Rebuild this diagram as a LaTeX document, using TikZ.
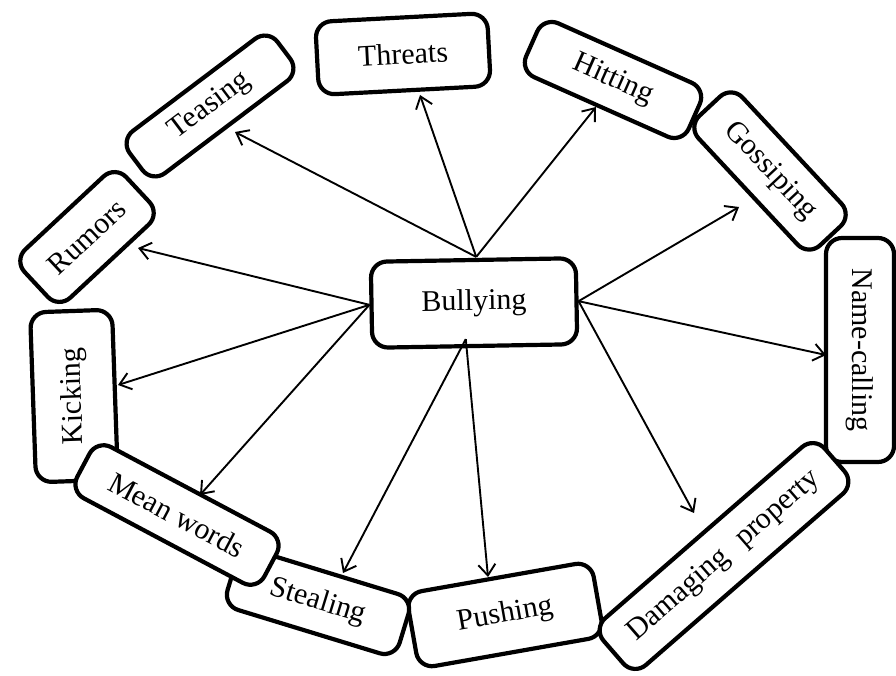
\documentclass[tikz,border=0pt]{standalone}
\usepackage{fontspec}
\setmainfont{Liberation Serif}
\usetikzlibrary{arrows.meta,calc}
\begin{document}
\begin{tikzpicture}[x=1pt,y=-1pt,
  item/.style={draw=black, line width=4.2pt, rounded corners=16pt, fill=white,
    inner sep=0pt, align=center, font=\fontsize{30}{34}\selectfont},
  link/.style={line width=1.9pt,
    -{Straight Barb[length=11pt,width=17pt]}}]
\useasboundingbox[fill=white] (0,0) rectangle (896,676);

% outer ring of boxes, back to front where they overlap
\node[item, minimum width=139pt, minimum height=66pt, rotate=43] (rumors) at (87,237) {Rumors};
\node[item, minimum width=170pt, minimum height=82pt, rotate=92] (kicking) at (74,396) {Kicking};
\node[item, minimum width=185pt, minimum height=53pt, rotate=37] (teasing) at (210,106) {Teasing};
\node[item, minimum width=172pt, minimum height=73pt, rotate=3] (threats) at (403,54) {Threats};
\node[item, minimum width=178pt, minimum height=59pt, rotate=-24] (hitting) at (613,80) {Hitting};
\node[item, minimum width=177pt, minimum height=60pt, rotate=-47] (gossip) at (770,171) {Gossiping};
\node[item, minimum width=224pt, minimum height=68pt, rotate=-90] (namecall) at (860,350) {Name-calling};
\node[item, minimum width=188pt, minimum height=76pt, rotate=10] (pushing) at (505,615) {Pushing};
\node[item, minimum width=293pt, minimum height=62pt, rotate=41] (damage) at (724,556) {Damaging\hspace{0.6em}property};
\node[item, minimum width=180pt, minimum height=62pt, rotate=-17] (stealing) at (318,602) {Stealing};
\node[item, minimum width=212pt, minimum height=58pt, rotate=-28] (mean) at (177,515) {Mean words};

% centre box
\node[item, minimum width=205pt, minimum height=86pt, rotate=1] (bul) at (474,303) {Bullying};

% points on the centre box where the arrows leave
\coordinate (hubN) at ($(bul.north)+(3,-1)$);
\coordinate (hubE) at (bul.east);
\coordinate (hubS) at ($(bul.south)+(-9,-9)$);
\coordinate (hubW) at (bul.west);

% arrows
\draw[link] (hubN) -- ($(teasing)+(25,26)$);
\draw[link] (hubN) -- ($(threats)+(17,41)$);
\draw[link] (hubN) -- ($(hitting)+(-17,27)$);
\draw[link] (hubE) -- ($(gossip)+(-31,36)$);
\draw[link] (hubE) -- ($(namecall)+(-34,5)$);
\draw[link] (hubE) -- ($(damage)+(-30,-43)$);
\draw[link] (hubS) -- ($(pushing)+(-17,-38)$);
\draw[link] (hubS) -- ($(stealing)+(25,-29)$);
\draw[link] (hubW) -- ($(mean)+(23,-20)$);
\draw[link] (hubW) -- ($(kicking)+(44,-11)$);
\draw[link] (hubW) -- ($(rumors)+(51,11)$);
\end{tikzpicture}
\end{document}
